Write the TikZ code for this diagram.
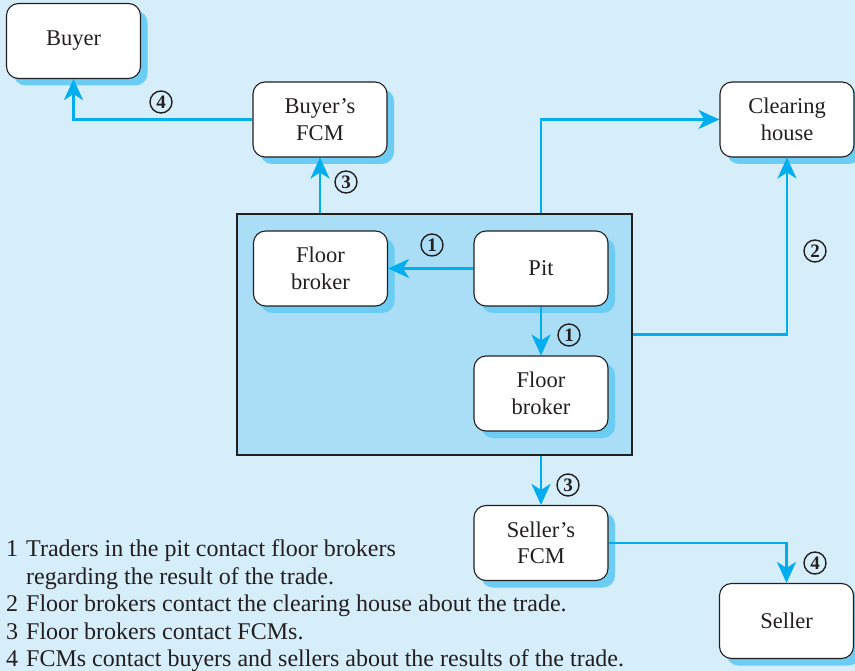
\documentclass[tikz,border=0pt]{standalone}
\usepackage{fontspec}
\setmainfont{Liberation Serif}
\usetikzlibrary{shadows,arrows.meta,positioning,calc}
\definecolor{bgcol}{RGB}{214,237,250}
\definecolor{pitcol}{RGB}{170,222,246}
\definecolor{shadcol}{RGB}{108,205,244}
\definecolor{arrcol}{RGB}{0,174,239}
\definecolor{inkcol}{RGB}{35,31,32}
\tikzset{
  box/.style={draw=inkcol, line width=1.1pt, fill=white, rounded corners=12pt,
    minimum width=134pt, minimum height=75pt, align=center, inner sep=2pt,
    font=\fontsize{22.5}{26.5}\selectfont, text=inkcol,
    general shadow={shadow xshift=7pt, shadow yshift=-7pt, fill=shadcol, draw=none}},
  arr/.style={draw=arrcol, line width=2.6pt, -{Stealth[length=21pt,width=19pt,inset=6pt]}},
  num/.style={circle, draw=inkcol, line width=1.4pt, inner sep=0pt, minimum size=22pt,
    font=\fontsize{19}{19}\selectfont\bfseries, text=inkcol},
}
\begin{document}
\begin{tikzpicture}[x=1pt,y=-1pt]
\fill[bgcol] (0,0) rectangle (855,671);
\useasboundingbox (0,0) rectangle (855,671);
% pit area
\node[draw=inkcol, line width=1.1pt, fill=pitcol, minimum width=395pt, minimum height=241pt, inner sep=0pt] (area) at (434.5,334.5) {};
% boxes
\node[box] (buyer) at (73.5,41) {Buyer};
\node[box] (bfcm) at (320,119.5) {Buyer’s\\FCM};
\node[box] (ch) at (787,119.5) {Clearing\\house};
\node[box] (fbl) at (320.5,268.5) {Floor\\broker};
\node[box] (pit) at (541,268.5) {Pit};
\node[box] (fbb) at (541,393.5) {Floor\\broker};
\node[box] (sfcm) at (541,543) {Seller’s\\FCM};
\node[box] (seller) at (786.5,621) {Seller};
% connectors
\draw[arr] (bfcm.west) -| (buyer.south);
\draw[arr] (area.north -| bfcm) -- (bfcm.south);
\draw[arr] (pit.west) -- (fbl.east);
\draw[arr] (pit.south) -- (fbb.north);
\draw[arr] (area.north -| pit) |- (ch.west);
\draw[arr] (area.east) -| (ch.south);
\draw[arr] (area.south -| pit) -- (sfcm.north);
\draw[arr] (sfcm.east) -| (seller.north);
% step labels
\node[num] (s4a) at (161,102) {4};
\node[num] (s3a) at (346,182) {3};
\node[num] (s1a) at (432,245) {1};
\node[num] (s1b) at (569,335) {1};
\node[num] (s2) at (815,251) {2};
\node[num] (s3b) at (568,485) {3};
\node[num] (s4b) at (815,563) {4};
% legend
\node[anchor=north west, inner sep=0pt, text=inkcol, font=\fontsize{24}{27.6}\selectfont] (legend) at (6,537) {%
\begin{tabular}{@{}l@{\hspace{8pt}}l@{}}
1 & Traders in the pit contact floor brokers\\
  & regarding the result of the trade.\\
2 & Floor brokers contact the clearing house about the trade.\\
3 & Floor brokers contact FCMs.\\
4 & FCMs contact buyers and sellers about the results of the trade.
\end{tabular}};
\end{tikzpicture}
\end{document}
